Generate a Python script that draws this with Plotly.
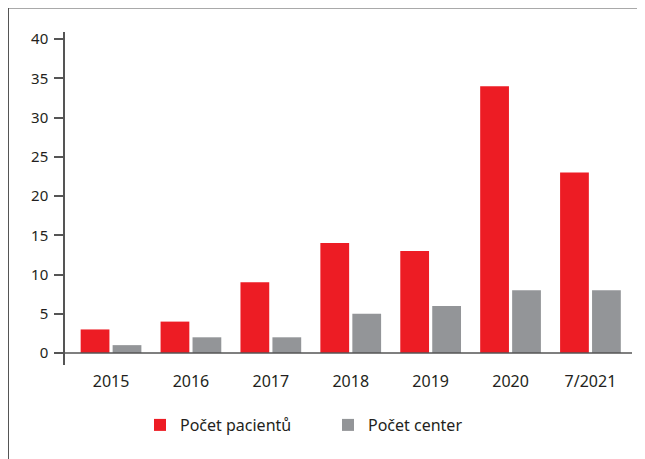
import plotly.graph_objects as go

categories = ["2015", "2016", "2017", "2018", "2019", "2020", "7/2021"]
pacienti = [3, 4, 9, 14, 13, 34, 23]
centra = [1, 2, 2, 5, 6, 8, 8]
y_ticks = [0, 5, 10, 15, 20, 25, 30, 35, 40]

RED = "#ED1C24"
GRAY = "#939598"
TXT = "#231F20"
LINE = "#555555"

fig = go.Figure()
fig.add_trace(go.Bar(x=categories, y=pacienti, name="Počet pacientů", marker=dict(color=RED, line=dict(width=0))))
fig.add_trace(go.Bar(x=categories, y=centra, name="Počet center", marker=dict(color=GRAY, line=dict(width=0))))

# page body adds an 8px margin; work in reference pixel coordinates and shift
O = 8
W, H = 645, 459 - O
PL, PR, PT, PB = 65, 632, 32, 365  # plot area in reference pixels
L, R, T, B = PL - O, W - (PR - O), PT - O, 459 - PB
pw, ph = PR - PL, PB - PT

def px_x(p):
    return (p - PL) / pw

def px_y(p):
    return (PB - p) / ph

fig.update_layout(
    width=W, height=H,
    margin=dict(l=L, r=R, t=T, b=B, pad=0),
    paper_bgcolor="white", plot_bgcolor="white",
    barmode="group", bargap=0.2, bargroupgap=0.1,
    font=dict(family="Noto Sans, Open Sans, sans-serif", color=TXT, size=15),
    showlegend=True,
    legend=dict(orientation="h", x=px_x(140), y=px_y(408), xanchor="left", yanchor="top",
                font=dict(size=16, color=TXT), entrywidth=143, entrywidthmode="pixels",
                bgcolor="rgba(0,0,0,0)"),
    xaxis=dict(range=[-0.576, 6.52], showline=False, showgrid=False, zeroline=False,
               ticks="", tickfont=dict(size=16, color=TXT), fixedrange=True, ticklabelstandoff=5),
    yaxis=dict(range=[-1.53, 40.9], tickvals=y_ticks, showline=True, linecolor=LINE, linewidth=1.5,
               ticks="outside", ticklen=9, tickcolor=LINE, tickwidth=1.5,
               showgrid=False, zeroline=False, tickfont=dict(size=15, color=TXT), ticklabelstandoff=3),
    shapes=[
        dict(type="line", xref="paper", yref="y", x0=0, x1=1, y0=0, y1=0,
             line=dict(color=LINE, width=1.5), layer="above"),
        dict(type="line", xref="paper", yref="paper", x0=px_x(8), x1=px_x(8), y0=px_y(7.5), y1=px_y(470),
             line=dict(color=LINE, width=2)),
        dict(type="line", xref="paper", yref="paper", x0=px_x(8), x1=px_x(680), y0=px_y(7.5), y1=px_y(7.5),
             line=dict(color=LINE, width=2)),
    ],
)

fig.write_html("out.html")
